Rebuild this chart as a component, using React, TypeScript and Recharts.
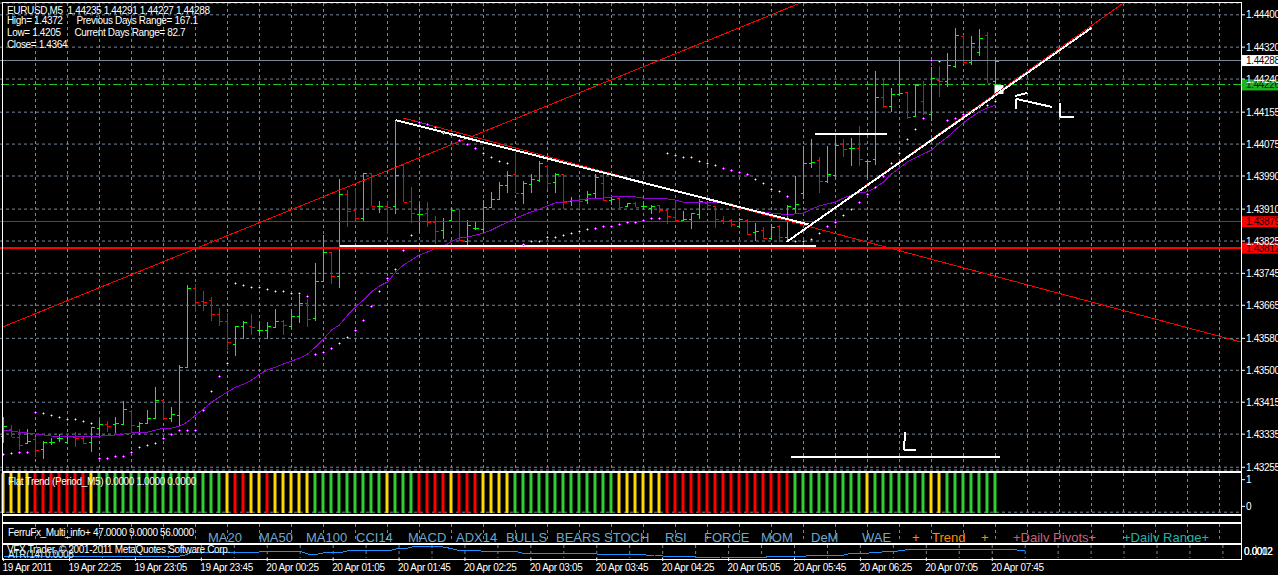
import {
  ComposedChart,
  Bar,
  Line,
  Cell,
  XAxis,
  YAxis,
  CartesianGrid,
  ReferenceLine,
  ReferenceArea,
} from "recharts";

const FONT = "'Liberation Sans', Arial, sans-serif";
const FONT_SIZE = 10;
const TRACK = -0.35;
const GRID = "#778899";

const opens = [
  1.43335, 1.43353, 1.43333, 1.43317, 1.43327, 1.43302, 1.4332, 1.4333, 1.4332, 1.43333,
  1.4333, 1.4332, 1.43355, 1.43366, 1.43366, 1.43366, 1.43399, 1.4336, 1.43368, 1.43381,
  1.43426, 1.43381, 1.43388, 1.4351, 1.43711, 1.43678, 1.4368, 1.43645, 1.43627, 1.43569,
  1.43614, 1.43614, 1.43604, 1.43604, 1.43612, 1.43627, 1.43614, 1.4364, 1.43673, 1.43635,
  1.43728, 1.43802, 1.43741, 1.43949, 1.43909, 1.43888, 1.44003, 1.43919, 1.43919, 1.43919,
  1.44023, 1.43932, 1.43899, 1.43901, 1.43878, 1.43858, 1.43883, 1.43911, 1.4383, 1.43863,
  1.4386, 1.43916, 1.43937, 1.43972, 1.44, 1.43952, 1.43975, 1.43985, 1.4402, 1.4398,
  1.44, 1.43932, 1.43934, 1.43934, 1.43952, 1.43977, 1.43934, 1.43939, 1.43919, 1.43927,
  1.43919, 1.43914, 1.43921, 1.43909, 1.43891, 1.43883, 1.43886, 1.43899, 1.43927, 1.43919,
  1.43883, 1.43883, 1.43868, 1.43883, 1.43853, 1.43858, 1.43838, 1.43868, 1.4384, 1.43914,
  1.43952, 1.44028, 1.44036, 1.43982, 1.43998, 1.44076, 1.44066, 1.44066, 1.44033, 1.44038,
  1.44196, 1.44173, 1.44203, 1.44208, 1.44147, 1.44186, 1.44153, 1.44239, 1.44236, 1.44274,
  1.44351, 1.44284, 1.4431, 1.44353, 1.44235,
];
const highs = [
  1.43383, 1.43363, 1.43353, 1.43353, 1.43333, 1.43322, 1.4333, 1.4334, 1.43335, 1.43345,
  1.43335, 1.43358, 1.43376, 1.43373, 1.43383, 1.43424, 1.43401, 1.43371, 1.43401, 1.43459,
  1.43426, 1.43409, 1.43515, 1.43718, 1.43721, 1.43703, 1.43688, 1.4366, 1.43647, 1.43614,
  1.43627, 1.43645, 1.43622, 1.43624, 1.43657, 1.43629, 1.43657, 1.43693, 1.43683, 1.43774,
  1.43845, 1.43802, 1.43987, 1.4396, 1.43965, 1.44003, 1.44003, 1.43932, 1.43932, 1.44135,
  1.44023, 1.43967, 1.43924, 1.43929, 1.43894, 1.43888, 1.43916, 1.43911, 1.43883, 1.43878,
  1.43934, 1.43955, 1.4398, 1.44008, 1.44056, 1.43982, 1.44, 1.44033, 1.44023, 1.44003,
  1.44, 1.43942, 1.43942, 1.43957, 1.44, 1.44, 1.43939, 1.43939, 1.43927, 1.43929,
  1.43927, 1.43921, 1.43921, 1.43914, 1.43932, 1.43906, 1.43901, 1.43937, 1.43927, 1.43919,
  1.43893, 1.43886, 1.43888, 1.43886, 1.43876, 1.43866, 1.43873, 1.43871, 1.43921, 1.43995,
  1.44071, 1.44089, 1.44043, 1.44071, 1.44097, 1.44089, 1.44092, 1.44122, 1.44036, 1.44262,
  1.44244, 1.44219, 1.44287, 1.44208, 1.44229, 1.44236, 1.44272, 1.44274, 1.44307, 1.44371,
  1.44353, 1.44351, 1.44368, 1.44361, 1.44291,
];
const lows = [
  1.43317, 1.43333, 1.433, 1.43315, 1.43282, 1.43277, 1.43312, 1.4332, 1.43317, 1.43307,
  1.43315, 1.43294, 1.43335, 1.43345, 1.43343, 1.43363, 1.43345, 1.43338, 1.43366, 1.43378,
  1.43376, 1.43371, 1.43358, 1.4351, 1.4365, 1.43652, 1.43627, 1.43614, 1.43553, 1.43538,
  1.43581, 1.43591, 1.43591, 1.43581, 1.43612, 1.43591, 1.43607, 1.43622, 1.43612, 1.43627,
  1.43728, 1.43721, 1.43711, 1.43866, 1.43883, 1.43881, 1.43919, 1.43901, 1.43848, 1.43899,
  1.43929, 1.43876, 1.4385, 1.43866, 1.43822, 1.43835, 1.43881, 1.4383, 1.4382, 1.43858,
  1.4385, 1.43914, 1.43934, 1.43952, 1.43952, 1.43924, 1.43952, 1.4398, 1.43962, 1.43952,
  1.43911, 1.43919, 1.43911, 1.43924, 1.43939, 1.43932, 1.43922, 1.43911, 1.43916, 1.43916,
  1.43911, 1.43899, 1.43901, 1.43873, 1.43878, 1.43881, 1.4386, 1.43886, 1.43911, 1.43863,
  1.43873, 1.43866, 1.43863, 1.43845, 1.4383, 1.43835, 1.43833, 1.43828, 1.4383, 1.43901,
  1.43937, 1.44015, 1.43952, 1.43977, 1.43987, 1.44043, 1.44021, 1.44021, 1.4399, 1.44023,
  1.44168, 1.44158, 1.44203, 1.4414, 1.44145, 1.4415, 1.44135, 1.44196, 1.44221, 1.44269,
  1.44279, 1.44277, 1.443, 1.44231, 1.44227,
];
const closes = [
  1.4336, 1.43333, 1.43312, 1.43322, 1.433, 1.4332, 1.4332, 1.4333, 1.43335, 1.4333,
  1.43317, 1.43358, 1.43366, 1.4336, 1.43368, 1.43404, 1.43363, 1.43368, 1.43381, 1.43426,
  1.43381, 1.43391, 1.4351, 1.43711, 1.43675, 1.43675, 1.43645, 1.43627, 1.43574, 1.43614,
  1.43624, 1.43612, 1.43604, 1.43614, 1.43627, 1.43617, 1.4364, 1.43673, 1.43632, 1.43728,
  1.43802, 1.43741, 1.43949, 1.43906, 1.43888, 1.44003, 1.43919, 1.43919, 1.43916, 1.43998,
  1.43929, 1.43901, 1.43899, 1.43878, 1.43855, 1.43881, 1.43909, 1.43833, 1.43871, 1.43863,
  1.43916, 1.43937, 1.43972, 1.43998, 1.43952, 1.43977, 1.43987, 1.44028, 1.43977, 1.44,
  1.43929, 1.43934, 1.43932, 1.43949, 1.43993, 1.43934, 1.43937, 1.43916, 1.43927, 1.43916,
  1.43919, 1.43919, 1.43909, 1.43893, 1.43883, 1.43886, 1.43901, 1.43932, 1.43921, 1.43886,
  1.43881, 1.43873, 1.43886, 1.43848, 1.43855, 1.43838, 1.43866, 1.4384, 1.43919, 1.43924,
  1.44028, 1.44031, 1.43982, 1.44, 1.44074, 1.44064, 1.44066, 1.44038, 1.44033, 1.44196,
  1.44173, 1.44203, 1.44206, 1.44145, 1.44226, 1.44155, 1.44244, 1.44236, 1.44277, 1.44353,
  1.44284, 1.44333, 1.44345, 1.44231, 1.44288,
];
const ma = [
  1.43348, 1.43348, 1.43345, 1.43343, 1.4334, 1.43338, 1.43335, 1.43335, 1.43335, 1.43335,
  1.43335, 1.43335, 1.43335, 1.43336, 1.43338, 1.4334, 1.43343, 1.43343, 1.43345, 1.4335,
  1.43355, 1.43355, 1.4336, 1.43371, 1.43388, 1.43404, 1.43421, 1.43434, 1.43447, 1.43459,
  1.43467, 1.43477, 1.43492, 1.43503, 1.4351, 1.43518, 1.43525, 1.43533, 1.43543, 1.43561,
  1.43581, 1.43604, 1.43617, 1.43642, 1.43663, 1.4368, 1.43701, 1.43716, 1.43726, 1.43751,
  1.43769, 1.43782, 1.43795, 1.43802, 1.43812, 1.43817, 1.43828, 1.43838, 1.4384, 1.43845,
  1.4385, 1.43858, 1.43868, 1.43878, 1.43888, 1.43896, 1.43904, 1.43911, 1.43919, 1.43927,
  1.43929, 1.43932, 1.43934, 1.43937, 1.43939, 1.43939, 1.43942, 1.43942, 1.43942, 1.43942,
  1.43939, 1.43937, 1.43937, 1.43937, 1.43934, 1.43929, 1.43929, 1.43929, 1.43929, 1.43927,
  1.43927, 1.43924, 1.43916, 1.43911, 1.43906, 1.43904, 1.43901, 1.43899, 1.43896, 1.43899,
  1.43901, 1.43911, 1.43919, 1.43924, 1.43929, 1.43939, 1.43947, 1.43952, 1.43955, 1.43965,
  1.4398, 1.44, 1.44015, 1.44031, 1.44041, 1.44051, 1.44061, 1.44079, 1.44094, 1.44112,
  1.4413, 1.44145, 1.44158, 1.44168, 1.44175,
];
const sar = [
  1.43289, 1.43292, 1.43294, 1.43294, 1.43396, 1.43393, 1.43388, 1.43383, 1.43378, 1.43376,
  1.43373, 1.43366, 1.43279, 1.43279, 1.43282, 1.43284, 1.43294, 1.43305, 1.4331, 1.43315,
  1.4333, 1.4334, 1.43348, 1.4335, 1.4335, 1.43401, 1.43447, 1.43485, 1.43518, 1.43721,
  1.43718, 1.43713, 1.43711, 1.43708, 1.43703, 1.43701, 1.43698, 1.43696, 1.4369, 1.43541,
  1.43546, 1.43558, 1.43569, 1.43584, 1.43602, 1.43629, 1.43665, 1.43703, 1.43734, 1.43759,
  1.43805, 1.43843, 1.4413, 1.44125, 1.44117, 1.44104, 1.44097, 1.44084, 1.44074, 1.44064,
  1.44053, 1.44043, 1.44033, 1.44026, null, 1.43822, 1.43828, 1.4383, 1.43838, 1.4384,
  1.43843, 1.43848, 1.43853, 1.43858, 1.43861, 1.43866, 1.43868, 1.43873, 1.43876, 1.43878,
  1.43883, 1.43886, 1.43888, 1.44051, 1.44048, 1.44043, 1.44041, 1.44033, 1.44026, 1.44021,
  1.44013, 1.44008, 1.44003, 1.43998, 1.43987, 1.43975, 1.43962, 1.43955, 1.43942, 1.43828,
  1.43828, 1.43835, 1.4385, 1.43866, 1.43878, 1.43896, 1.43911, 1.43927, 1.43947, 1.43965,
  1.43993, 1.44026, 1.44053, 1.44087, 1.44114, 1.4414, 1.44287, 1.44285, 1.44137, 1.44142,
  1.4415, 1.44158, 1.44168, 1.44175, 1.44183,
];
const atr = [
  0.00047, 0.00047, 0.00047, 0.00047, 0.00047, 0.00047, 0.00047, 0.00047, 0.00047, 0.00047,
  0.00047, 0.00047, 0.00047, 0.00047, 0.00047, 0.00047, 0.00047, 0.00047, 0.00047, 0.00047,
  0.00047, 0.00047, 0.00055, 0.0007, 0.0007, 0.0007, 0.0007, 0.0007, 0.0007, 0.0007,
  0.0007, 0.0007, 0.00074, 0.00074, 0.00074, 0.00074, 0.00074, 0.00059, 0.00059, 0.00067,
  0.00067, 0.00067, 0.00079, 0.00079, 0.00079, 0.00079, 0.00079, 0.00079, 0.00089, 0.00089,
  0.001, 0.001, 0.001, 0.00097, 0.0009, 0.0008, 0.0008, 0.0008, 0.00075, 0.00075,
  0.00075, 0.00075, 0.00075, 0.00064, 0.00064, 0.00064, 0.00064, 0.00064, 0.00064, 0.00064,
  0.00064, 0.00064, 0.0006, 0.0006, 0.0006, 0.0006, 0.0006, 0.0006, 0.00055, 0.00055,
  0.0005, 0.0005, 0.0005, 0.0005, 0.00045, 0.00045, 0.00045, 0.00045, 0.00042, 0.00042,
  0.00042, 0.00042, 0.00042, 0.00047, 0.00047, 0.00047, 0.00047, 0.00047, 0.00055, 0.00055,
  0.00055, 0.00055, 0.00055, 0.00065, 0.00065, 0.00065, 0.00067, 0.00072, 0.00072, 0.00077,
  0.00084, 0.00084, 0.00084, 0.00084, 0.00084, 0.00084, 0.00084, 0.00084, 0.00084, 0.00084,
  0.00084, 0.00084, 0.00084, 0.0008, 0.0008,
];
// flat trend state per bar: y = flat, r = down, g = up
const flatStates =
  "yyyyrrrrrrry" + "gggggggggggggggg" + "yrryyryyyyy" + "ggggggggg" + "yggg" +
  "rrrryrrryyyy" + "ggggggggggggg" + "yyyyyy" + "rrrrrrrrrrrrrrrr" + "ggggggggg" +
  "y" + "ggggggg" + "yy" + "ggggggg";

const priceTicks = [
  1.44404, 1.44322, 1.44241, 1.44157, 1.44076, 1.43995, 1.43911, 1.4383, 1.43748, 1.43667,
  1.43583, 1.43502, 1.43421, 1.4334, 1.43256,
];
const priceLabels = [
  "1.44400", "1.44320", "1.44240", "1.44155", "1.44075", "1.43990", "1.43910", "1.43825",
  "1.43745", "1.43665", "1.43580", "1.43500", "1.43415", "1.43335", "1.43255",
];
const timeLabels = [
  "19 Apr 2011", "19 Apr 22:25", "19 Apr 23:05", "19 Apr 23:45", "20 Apr 00:25", "20 Apr 01:05",
  "20 Apr 01:45", "20 Apr 02:25", "20 Apr 03:05", "20 Apr 03:45", "20 Apr 04:25", "20 Apr 05:05",
  "20 Apr 05:45", "20 Apr 06:25", "20 Apr 07:05", "20 Apr 07:45",
];
const timeTicks = timeLabels.map((_, i) => i * 8);
const gridTicks = Array.from({ length: 38 }, (_, i) => (i + 1) * 4);

// drawn objects, in bar index / price
const redLines = [
  [-0.1, 1.43612, 99.6, 1.44434, 1],
  [50, 1.44142, 154.65, 1.43574, 1],
  [98, 1.4383, 140, 1.44434, 1],
];
const whiteLines = [
  [49, 1.44137, 100.6, 1.43872, 2],
  [42, 1.43817, 101.5, 1.43817, 2],
  [97.9, 1.43828, 136, 1.44371, 2],
  [101.4, 1.44102, 110.4, 1.44102, 2],
  [98.4, 1.43282, 124.5, 1.43282, 2],
  [112.75, 1.43345, 112.5, 1.433, 2],
  [112.5, 1.433, 114.1, 1.433, 2],
  [132.1, 1.4418, 132.1, 1.44145, 2],
  [132.1, 1.44145, 133.75, 1.44145, 2],
  [126.5, 1.44191, 131.1, 1.4417, 2],
  [126.5, 1.44191, 126.5, 1.44165, 2],
  [126.4, 1.44198, 128, 1.44206, 2],
];
const priceTags = [
  { y: 1.44288, line: "#778899", bg: "#ffffff", width: 1 },
  { y: 1.43879, line: "#ff0000", bg: "#ff0000", width: 1 },
  { y: 1.43812, line: "#ff0000", bg: "#ff0000", width: 2 },
];
const bidPrice = 1.44226;

const ferruLabels = [
  "MA20", "MA50", "MA100", "CCI14", "MACD", "ADX14", "BULLS", "BEARS", "STOCH", "RSI", "FORCE",
  "MOM", "DeM", "WAE",
];
const ferruLabelX = [208, 259, 306, 356, 408, 456, 506, 556, 604, 665, 704, 761, 811, 862];

const rows = opens.map((open, n) => ({
  n,
  open,
  high: highs[n],
  low: lows[n],
  close: closes[n],
  hl: [lows[n], highs[n]],
  ma: ma[n],
  sar: sar[n],
  atr: atr[n],
  flat: [-0.25, 1.25],
}));

const xDomain = [-0.4375, 154.6875];

function OhlcBar(props: any) {
  const { x, y, width, height, payload } = props;
  const cx = Math.floor(x + width / 2) + 0.5;
  const span = payload.high - payload.low || 1;
  const yOpen = Math.round(y + ((payload.high - payload.open) / span) * height) + 0.5;
  const yClose = Math.round(y + ((payload.high - payload.close) / span) * height) + 0.5;
  const color = payload.close >= payload.open ? "#00ff00" : "#ff0000";
  return (
    <g stroke={color} strokeWidth={1} shapeRendering="crispEdges">
      <line x1={cx} x2={cx} y1={y} y2={y + height} />
      <line x1={cx - 3} x2={cx} y1={yOpen} y2={yOpen} />
      <line x1={cx} x2={cx + 3} y1={yClose} y2={yClose} />
    </g>
  );
}

function SarDot(props: any) {
  const { cx, cy, value } = props;
  if (cx == null || cy == null || value == null) return <g key={props.index} />;
  const px = Math.floor(cx);
  const py = Math.floor(cy);
  return (
    <g shapeRendering="crispEdges" key={props.index}>
      <rect x={px - 1} y={py} width={3} height={1} fill="#c81eff" />
      <rect x={px} y={py - 1} width={1} height={3} fill="#c81eff" />
      <rect x={px} y={py} width={1} height={1} fill="#ffffff" />
    </g>
  );
}

function PriceTag(props: any) {
  const { viewBox, value, bg, fg } = props;
  const y = viewBox.y;
  return (
    <g>
      <rect x={1242} y={y - 5.5} width={36} height={11} fill={bg} />
      <text x={1246} y={y + 3.5} fontSize={FONT_SIZE} letterSpacing={TRACK} fontFamily={FONT} fill={fg}>
        {value}
      </text>
    </g>
  );
}

function TimeTick(props: any) {
  const { x, y, payload, index } = props;
  return (
    <text x={x - 1} y={y + 8} fontSize={FONT_SIZE} letterSpacing={TRACK} fontFamily={FONT} fill="#ffffff">
      {timeLabels[index] ?? timeLabels[payload.value / 8]}
    </text>
  );
}

function Txt({ x, cy, color = "#ffffff", children }: any) {
  return (
    <div
      style={{
        position: "absolute",
        left: x,
        top: cy - 6,
        lineHeight: "12px",
        fontSize: FONT_SIZE,
        letterSpacing: TRACK,
        fontFamily: FONT,
        color,
        whiteSpace: "pre",
      }}
    >
      {children}
    </div>
  );
}

function Frame({ top, bottom }: { top: number; bottom: number }) {
  return (
    <div
      style={{
        position: "absolute",
        left: 2,
        top,
        width: 1238,
        height: bottom - top - 1,
        border: "1px solid #ffffff",
        pointerEvents: "none",
      }}
    />
  );
}

function Panel({ top, height, children }: any) {
  return <div style={{ position: "absolute", left: 0, top, width: 1278, height }}>{children}</div>;
}

const rightTick = { fill: "#ffffff", fontSize: FONT_SIZE, letterSpacing: TRACK, fontFamily: FONT };

export default function App() {
  return (
    <div
      style={{
        position: "fixed",
        left: 0,
        top: 0,
        width: 1278,
        height: 575,
        background: "#000000",
        overflow: "hidden",
      }}
    >
      <Panel top={0} height={471}>
        <ComposedChart width={1278} height={471} data={rows} margin={{ top: 3, right: 0, bottom: 1, left: 0 }}>
          <CartesianGrid stroke={GRID} strokeDasharray="3 3" verticalValues={gridTicks} />
          <XAxis type="number" dataKey="n" domain={xDomain} allowDataOverflow hide ticks={gridTicks} />
          <YAxis
            orientation="right"
            width={37}
            domain={[1.43249, 1.44434]}
            allowDataOverflow
            ticks={priceTicks}
            interval={0}
            axisLine={false}
            tickLine={{ stroke: "#ffffff" }}
            tickSize={4}
            tickMargin={1}
            tick={rightTick}
            tickFormatter={(v: number) => priceLabels[priceTicks.indexOf(v)] ?? String(v)}
          />
          <Bar dataKey="hl" barSize={1} shape={<OhlcBar />} isAnimationActive={false} />
          <Line dataKey="ma" stroke="#9400d3" strokeWidth={1} dot={false} shapeRendering="crispEdges" isAnimationActive={false} />
          <Line dataKey="sar" stroke="none" dot={<SarDot />} isAnimationActive={false} />
          {priceTags.map((t) => (
            <ReferenceLine
              key={t.y}
              y={t.y}
              stroke={t.line}
              strokeWidth={t.width}
              shapeRendering="crispEdges"
              label={<PriceTag value={t.y.toFixed(5)} bg={t.bg} fg="#200000" />}
            />
          ))}
          <ReferenceLine
            y={bidPrice}
            stroke="#20c820"
            strokeDasharray="8 3 2 3"
            shapeRendering="crispEdges"
            label={<PriceTag value={bidPrice.toFixed(5)} bg="#20b020" fg="#002000" />}
          />
          {redLines.map((l, i) => (
            <ReferenceLine
              key={"r" + i}
              segment={[{ x: l[0], y: l[1] }, { x: l[2], y: l[3] }]}
              stroke="#ff0000"
              strokeWidth={l[4]}
              shapeRendering="crispEdges"
            />
          ))}
          {whiteLines.map((l, i) => (
            <ReferenceLine
              key={"w" + i}
              segment={[{ x: l[0], y: l[1] }, { x: l[2], y: l[3] }]}
              stroke="#ffffff"
              strokeWidth={l[4]}
              shapeRendering="crispEdges"
            />
          ))}
          <ReferenceArea x1={123.875} x2={125} y1={1.44203} y2={1.44226} fill="#ffffff" fillOpacity={1} stroke="none" />
        </ComposedChart>
      </Panel>

      <Panel top={473} height={40}>
        <ComposedChart width={1278} height={40} data={rows} margin={{ top: 0, right: 0, bottom: 0, left: 0 }}>
          <CartesianGrid stroke={GRID} strokeDasharray="3 3" verticalValues={gridTicks} horizontalValues={[-0.22]} />
          <XAxis type="number" dataKey="n" domain={xDomain} allowDataOverflow hide ticks={gridTicks} />
          <YAxis
            orientation="right"
            width={37}
            domain={[-0.25, 1.25]}
            ticks={[1, 0]}
            interval={0}
            axisLine={false}
            tickLine={{ stroke: "#ffffff" }}
            tickSize={4}
            tickMargin={1}
            tick={rightTick}
          />
          <Bar dataKey="flat" barSize={3} isAnimationActive={false}>
            {rows.map((r) => {
              const s = flatStates[r.n];
              return <Cell key={r.n} fill={s === "g" ? "#32cd32" : s === "r" ? "#ff0000" : "#ffd700"} />;
            })}
          </Bar>
        </ComposedChart>
      </Panel>

      <Panel top={524} height={18}>
        <ComposedChart width={1278} height={18} data={rows} margin={{ top: 0, right: 0, bottom: 0, left: 0 }}>
          <CartesianGrid stroke={GRID} strokeDasharray="3 3" verticalValues={gridTicks} horizontalValues={[-1]} />
          <XAxis type="number" dataKey="n" domain={xDomain} allowDataOverflow hide ticks={gridTicks} />
          <YAxis
            orientation="right"
            width={37}
            domain={[-1.1, 2.05]}
            ticks={[1, 0]}
            interval={0}
            axisLine={false}
            tickLine={{ stroke: "#ffffff" }}
            tickSize={4}
            tickMargin={1}
            tick={rightTick}
          />
        </ComposedChart>
      </Panel>

      <Panel top={545} height={30}>
        <ComposedChart width={1278} height={30} data={rows} margin={{ top: 0, right: 0, bottom: 0, left: 0 }}>
          <CartesianGrid stroke={GRID} strokeDasharray="3 3" verticalValues={gridTicks} horizontal={false} />
          <XAxis
            type="number"
            dataKey="n"
            domain={xDomain}
            allowDataOverflow
            ticks={timeTicks}
            interval={0}
            height={17}
            axisLine={false}
            tickLine={{ stroke: "#ffffff" }}
            tickSize={3}
            tick={<TimeTick />}
          />
          <YAxis orientation="right" width={37} domain={[0.0004, 0.00105]} hide />
          <Line dataKey="atr" stroke="#1e90ff" strokeWidth={1} dot={false} shapeRendering="crispEdges" isAnimationActive={false} />
        </ComposedChart>
      </Panel>

      <Frame top={2} bottom={471} />
      <Frame top={472} bottom={514} />
      <Frame top={515} bottom={522} />
      <Frame top={523} bottom={543} />
      <Frame top={544} bottom={559} />

      <Txt x={7} cy={10.5}>EURUSD,M5  1.44235 1.44291 1.44227 1.44288</Txt>
      <Txt x={7} cy={21}>High= 1.4372</Txt>
      <Txt x={76.5} cy={21}>Previous Days Range= 167.1</Txt>
      <Txt x={7} cy={33}>Low= 1.4205</Txt>
      <Txt x={74.5} cy={33}>Current Days Range= 82.7</Txt>
      <Txt x={7} cy={44.5}>Close= 1.4364</Txt>
      <Txt x={8} cy={482}>Flat Trend (Period_M5) 0.0000 1.0000 0.0000</Txt>
      <Txt x={8} cy={533}>FerruFx_Multi_info+ 47.0000 9.0000 56.0000</Txt>
      <Txt x={7} cy={550}>VFX Trader, © 2001-2011 MetaQuotes Software Corp.</Txt>
      <div style={{ position: "absolute", left: 0, top: 545, width: 1240, height: 13, overflow: "hidden" }}>
        <Txt x={8} cy={10} color="#cfe4f5">ATR(14) 0.0008</Txt>
      </div>
      <Txt x={1244} cy={552}>0.0012</Txt>
      <Txt x={1244} cy={552}>0.0002</Txt>

      <div style={{ position: "absolute", left: 3, top: 524, width: 1237, height: 18, overflow: "hidden", fontFamily: FONT, fontSize: 13, lineHeight: "15px", whiteSpace: "pre" }}>
        {ferruLabels.map((t, i) => (
          <span key={t} style={{ position: "absolute", left: ferruLabelX[i] - 3, top: 6, color: "#6fa8cc" }}>
            {t}
          </span>
        ))}
        <span style={{ position: "absolute", left: 909, top: 6, color: "#ff8c00" }}>+</span>
        <span style={{ position: "absolute", left: 929, top: 6, color: "#ff8c00" }}>Trend</span>
        <span style={{ position: "absolute", left: 978, top: 6, color: "#ff8c00" }}>+</span>
        <span style={{ position: "absolute", left: 1010, top: 6, color: "#c8607a" }}>+Daily Pivots+</span>
        <span style={{ position: "absolute", left: 1120, top: 6, color: "#20b2aa" }}>+Daily Range+</span>
      </div>
    </div>
  );
}
